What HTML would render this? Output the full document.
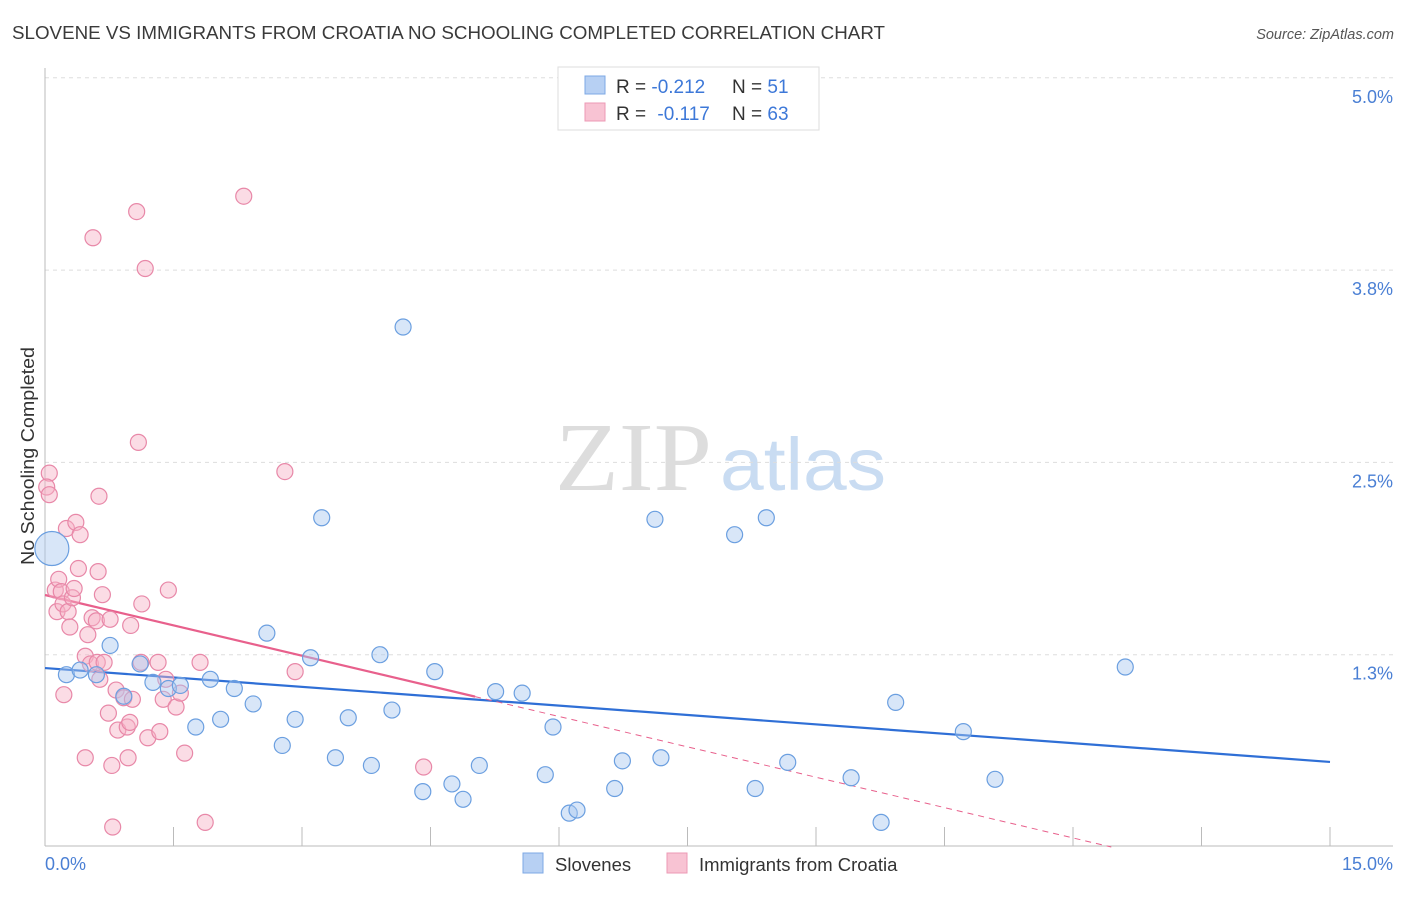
<!DOCTYPE html>
<html><head><meta charset="utf-8"><style>
body{margin:0;background:#fff;font-family:"Liberation Sans",sans-serif;}
</style></head><body>
<svg width="1406" height="892" xmlns="http://www.w3.org/2000/svg" style="font-family:'Liberation Sans',sans-serif">
<text x="12" y="39" font-size="18.5" fill="#3a3a3a" textLength="873" lengthAdjust="spacingAndGlyphs">SLOVENE VS IMMIGRANTS FROM CROATIA NO SCHOOLING COMPLETED CORRELATION CHART</text>
<text x="1394" y="39" font-size="14.5" fill="#555" font-style="italic" text-anchor="end">Source: ZipAtlas.com</text>
<text x="555" y="490" font-size="98" fill="#ddd" textLength="157" lengthAdjust="spacingAndGlyphs" font-family="Liberation Serif,serif">ZIP</text>
<text x="720" y="490" font-size="74" fill="#c9dcf2" textLength="166" lengthAdjust="spacingAndGlyphs">atlas</text>
<g id="grid"></g>
<g id="axes"></g>
<g id="lines"></g>
<g id="pts"></g>
<text transform="translate(34,456) rotate(-90)" font-size="18.5" fill="#333" text-anchor="middle" textLength="218" lengthAdjust="spacingAndGlyphs">No Schooling Completed</text>
<text x="45" y="870" font-size="18" fill="#4a7fd4">0.0%</text>
<text x="1393" y="870" font-size="18" fill="#4a7fd4" text-anchor="end">15.0%</text>
<g>
<rect x="558" y="67" width="261" height="63" fill="#fff" stroke="#ddd"/>
<rect x="585" y="76" width="20" height="18" fill="#b7d0f3" stroke="#7ea8e4"/>
<rect x="585" y="103" width="20" height="18" fill="#f8c3d3" stroke="#ec9ab5"/>
<text x="616" y="93" font-size="19" fill="#333">R = <tspan fill="#3d78d8">-0.212</tspan><tspan x="732">N = </tspan><tspan fill="#3d78d8">51</tspan></text>
<text x="616" y="120" font-size="19" fill="#333">R = <tspan fill="#3d78d8" dx="6">-0.117</tspan><tspan x="732">N = </tspan><tspan fill="#3d78d8">63</tspan></text>
</g>
<g>
<rect x="523" y="853" width="20" height="20" fill="#b7d0f3" stroke="#7ea8e4"/>
<text x="555" y="871" font-size="18.5" fill="#333">Slovenes</text>
<rect x="667" y="853" width="20" height="20" fill="#f8c3d3" stroke="#ec9ab5"/>
<text x="699" y="871" font-size="18.5" fill="#333">Immigrants from Croatia</text>
</g>
</svg>
<script>
const blueX=[.08,.25,.41,.60,.76,.92,1.11,1.26,1.44,1.58,1.76,1.93,2.05,2.21,2.43,2.59,2.77,2.92,3.10,3.23,3.39,3.54,3.81,3.91,4.05,4.18,4.41,4.55,4.75,4.88,5.07,5.26,5.57,5.84,5.93,6.12,6.21,6.65,6.74,7.12,7.19,8.05,8.29,8.42,8.67,9.41,9.76,9.93,10.72,11.09,12.61];
const blueY=[1.94,1.12,1.15,1.12,1.31,.98,1.19,1.07,1.03,1.05,.78,1.09,.83,1.03,.93,1.39,.66,.83,1.23,2.14,.58,.84,.53,1.25,.89,3.38,.36,1.14,.41,.31,.53,1.01,1.00,.47,.78,.22,.24,.38,.56,2.13,.58,2.03,.38,2.14,.55,.45,.16,.94,.75,.44,1.17];
const pinkX=[.05,.02,.05,.12,.14,.16,.19,.21,.22,.25,.27,.29,.32,.34,.36,.39,.41,.47,.47,.50,.53,.55,.56,.60,.61,.62,.63,.64,.67,.69,.74,.76,.78,.79,.83,.85,.92,.96,.97,.99,1.00,1.02,1.09,1.07,1.12,1.13,1.17,1.20,1.32,1.34,1.38,1.41,1.44,1.53,1.58,1.63,1.81,1.87,2.32,2.80,2.92,4.42];
const pinkY=[2.43,2.34,2.29,1.67,1.53,1.74,1.66,1.58,.99,2.07,1.53,1.43,1.62,1.68,2.11,1.81,2.03,1.24,.58,1.38,1.19,1.49,3.96,1.47,1.20,1.79,2.28,1.09,1.64,1.20,.87,1.48,.53,.13,1.02,.76,.97,.78,.58,.81,1.44,.96,2.63,4.13,1.20,1.58,3.76,.71,1.20,.75,.96,1.09,1.67,.91,1.00,.61,1.20,.16,4.23,2.44,1.14,.52];
const yTicks=[5.0,3.75,2.5,1.25];
const yTickLabels=["5.0%","3.8%","2.5%","1.3%"];
const xTicks=[0,1.5,3,4.5,6,7.5,9,10.5,12,13.5,15];
const blueFit=[1.163,0.553];
const pinkFit=[1.638,-0.1316];
const pinkSolidEnd=5.02;
const NS="http://www.w3.org/2000/svg";
const X=v=>45+v/15*1285, Y=v=>847-v*153.85;
function mk(p,t,a){const e=document.createElementNS(NS,t);for(const k in a)e.setAttribute(k,a[k]);document.getElementById(p).appendChild(e);return e;}
yTicks.forEach((v,i)=>{
 const g=mk('grid','line',{x1:45,x2:1393,y1:Y(v),y2:Y(v),stroke:'#ddd','stroke-dasharray':'4,4'});
 
 
 const t=mk('grid','text',{x:1393,y:Y(v)+25,'font-size':18,fill:'#4a7fd4','text-anchor':'end'});
 t.textContent=yTickLabels[i];
 
 
});
const ax=mk('axes','line',{x1:45,x2:45,y1:68,y2:846,stroke:'#bbb'});


const bx=mk('axes','line',{x1:45,x2:1393,y1:846,y2:846,stroke:'#bbb'});


xTicks.forEach(v=>{const t=mk('axes','line',{x1:X(v),x2:X(v),y1:827,y2:846,stroke:'#bbb'});
 
 });
function dot(x,y,r,f,s,n){const c=mk('pts','circle',{cx:X(x),cy:Y(y),r:r,fill:f,'fill-opacity':0.45,stroke:s,'stroke-width':1.2});
 
 }
pinkX.forEach((x,i)=>dot(x,pinkY[i],8,'#f6b2c6','#e888a8','croatia-point'));
blueX.forEach((x,i)=>dot(x,blueY[i],i==0?17:8,'#a9c8f0','#6b9fe0','slovene-point'));
const bl=mk('lines','line',{x1:X(0),y1:Y(blueFit[0]),x2:X(15),y2:Y(blueFit[1]),stroke:'#2f6fd6','stroke-width':2.2});


const pf=x=>pinkFit[0]+pinkFit[1]*x;
const zeroX=-pinkFit[0]/pinkFit[1];
const pl=mk('lines','line',{x1:X(0),y1:Y(pf(0)),x2:X(pinkSolidEnd),y2:Y(pf(pinkSolidEnd)),stroke:'#e8608c','stroke-width':2.2});


const pd=mk('lines','line',{x1:X(pinkSolidEnd),y1:Y(pf(pinkSolidEnd)),x2:X(zeroX),y2:Y(0),stroke:'#e8608c','stroke-width':1,'stroke-dasharray':'6,5'});


</script>
</body></html>
